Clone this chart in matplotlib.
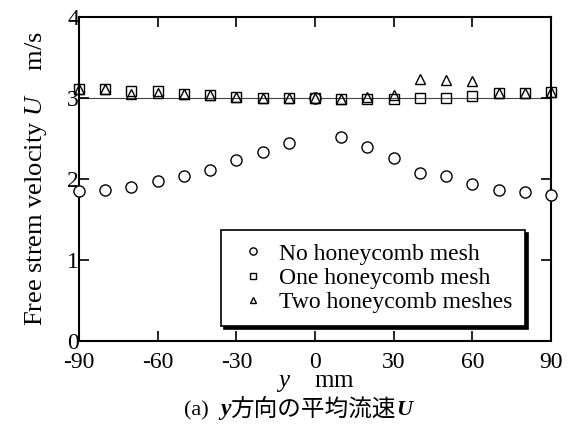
import numpy as np
import matplotlib
matplotlib.use('Agg')
import matplotlib.pyplot as plt

plt.rcParams['font.family'] = ['Liberation Serif', 'Noto Sans CJK JP']
plt.rcParams['mathtext.fontset'] = 'custom'
plt.rcParams['mathtext.rm'] = 'Liberation Serif'
plt.rcParams['mathtext.it'] = 'Liberation Serif:italic'
plt.rcParams['axes.unicode_minus'] = False

# y position (mm)
y_mm = [-90, -80, -70, -60, -50, -40, -30, -20, -10, 0, 10, 20, 30, 40, 50, 60, 70, 80, 90]

u_none = [1.85, 1.87, 1.90, 1.97, 2.04, 2.11, 2.24, 2.33, 2.44, 3.00,
          2.52, 2.40, 2.26, 2.08, 2.04, 1.94, 1.87, 1.84, 1.80]
u_one = [3.11, 3.11, 3.09, 3.09, 3.05, 3.04, 3.01, 3.00, 3.00, 3.00,
         2.99, 2.99, 2.99, 3.00, 3.00, 3.02, 3.06, 3.06, 3.07]
u_two = [3.11, 3.11, 3.05, 3.06, 3.05, 3.04, 3.01, 3.00, 3.00, 3.00,
         2.99, 3.01, 3.04, 3.23, 3.22, 3.21, 3.06, 3.06, 3.07]

labels = ['No honeycomb mesh', 'One honeycomb mesh', 'Two honeycomb meshes']
ref_u = 3.0

fig = plt.figure(figsize=(5.7, 4.38), dpi=100)
ax = fig.add_axes([0.1386, 0.2215, 0.8281, 0.7397])

ax.axhline(ref_u, color='#444444', lw=0.8, zorder=1)

ax.plot(y_mm, u_none, 'o', ms=8, mfc='white', mec='black', mew=1.0,
        label=labels[0], zorder=3, clip_on=False)
ax.plot(y_mm, u_one, 's', ms=6.5, mfc='none', mec='black', mew=1.0,
        label=labels[1], zorder=4, clip_on=False)
ax.plot(y_mm, u_two, '^', ms=7.5, mfc='none', mec='black', mew=1.0,
        label=labels[2], zorder=5, clip_on=False)

ax.set_xlim(-90, 90)
ax.set_ylim(0, 4)
ax.set_xticks(np.arange(-90, 91, 30))
ax.set_yticks(np.arange(0, 5, 1))
ax.tick_params(direction='in', top=True, right=True, length=7, width=1.2,
               labelsize=17, colors='black')
ax.tick_params(axis='x', pad=8)
ax.tick_params(axis='y', pad=0)
for s in ax.spines.values():
    s.set_linewidth(1.5)

ax.set_xlabel(r'$y$    mm', fontsize=18, labelpad=-1)
ax.set_ylabel(r'Free strem velocity $U$    m/s', fontsize=19, labelpad=13)

leg = ax.legend(loc='lower right', bbox_to_anchor=(0.945, 0.045), fontsize=17,
                markerscale=0.65, frameon=True, fancybox=False,
                shadow={'color': 'black', 'alpha': 1.0},
                edgecolor='black', handletextpad=0.3, handlelength=1.6,
                borderpad=0.55, labelspacing=0.12, borderaxespad=0)
leg.get_frame().set_linewidth(1.2)

# caption with italic pieces
fig.canvas.draw()
r = fig.canvas.get_renderer()
parts = [('(a)', 'normal', 16, 'normal'), ('  ', 'normal', 16, 'normal'),
         ('y', 'italic', 17, 'bold'), ('方向の平均流速', 'normal', 17, 'normal'),
         ('U', 'italic', 16, 'bold')]
texts = []
for s, st, fs, fw in parts:
    texts.append(fig.text(0, 0.052, s, fontsize=fs, style=st, fontweight=fw,
                          va='baseline'))
widths = [t.get_window_extent(r).width for t in texts]
total = sum(widths)
x0 = (298 / 570 * fig.bbox.width) - total / 2
for t, w in zip(texts, widths):
    t.set_x(x0 / fig.bbox.width)
    x0 += w

fig.savefig('out.png', dpi=100)
